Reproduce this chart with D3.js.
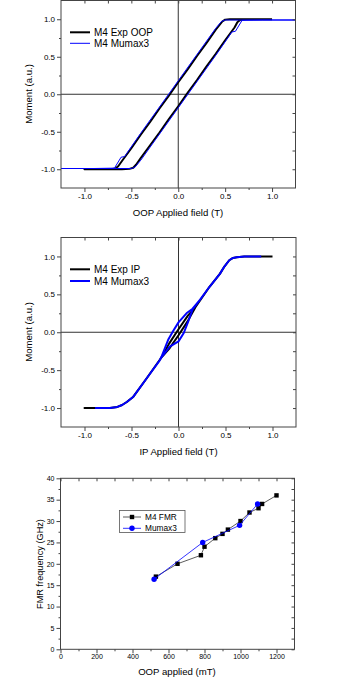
<!DOCTYPE html>
<html>
<head>
<meta charset="utf-8">
<script src="https://cdn.jsdelivr.net/npm/d3@7"></script>
<style>
body { margin: 0; background: #fff; }
svg { display: block; }
text { font-family: "Liberation Sans", Arial, sans-serif; fill: #000; }
</style>
</head>
<body>
<svg id="chart" width="342" height="677"></svg>
<script>
// ---- panel 1 : OOP loops (descending branch, then ascending branch)
var oopExpField = [1.0, 0.7, 0.55, 0.5, 0.47, 0.4, 0.3, 0.2, 0.1, 0.0, -0.1, -0.2, -0.3, -0.4, -0.5, -0.6, -0.64, -0.67, -0.72, -0.85, -1.0,
    -1.0, -0.8, -0.6, -0.52, -0.48, -0.45, -0.4, -0.3, -0.2, -0.1, 0.0, 0.1, 0.2, 0.3, 0.4, 0.5, 0.6, 0.63, 0.66, 0.72, 0.85, 1.0]
var oopExpMoment = [1.0, 1.0, 1.0, 0.995, 0.97, 0.86, 0.68, 0.51, 0.33, 0.16, -0.02, -0.19, -0.37, -0.54, -0.72, -0.89, -0.96, -0.99, -1.0, -1.0, -1.0,
    -1.0, -1.0, -1.0, -0.995, -0.98, -0.94, -0.85, -0.68, -0.51, -0.33, -0.16, 0.02, 0.19, 0.37, 0.54, 0.72, 0.89, 0.96, 0.99, 1.0, 1.0, 1.0]
var oopSimField = [1.25, 0.8, 0.5, 0.46, 0.4, 0.2, 0.0, -0.2, -0.4, -0.55, -0.57, -0.61, -0.68, -0.9, -1.25,
    -1.25, -0.8, -0.5, -0.46, -0.4, -0.2, 0.0, 0.2, 0.4, 0.55, 0.57, 0.61, 0.68, 0.9, 1.25]
var oopSimMoment = [0.99, 0.99, 0.99, 0.97, 0.88, 0.53, 0.18, -0.17, -0.52, -0.79, -0.83, -0.84, -0.985, -0.99, -0.99,
    -0.99, -0.99, -0.99, -0.97, -0.88, -0.53, -0.18, 0.17, 0.52, 0.79, 0.83, 0.84, 0.985, 0.99, 0.99]

// ---- panel 2 : IP loops
var ipExpField = [1.0, 0.7, 0.62, 0.58, 0.54, 0.49, 0.44, 0.33, 0.18, 0.1, 0.0, -0.1, -0.18, -0.34, -0.48, -0.55, -0.6, -0.65, -0.73, -1.0,
    -1.0, -0.73, -0.65, -0.6, -0.55, -0.48, -0.34, -0.18, -0.1, 0.0, 0.1, 0.18, 0.33, 0.44, 0.49, 0.54, 0.58, 0.62, 0.7, 1.0]
var ipExpMoment = [1.0, 1.0, 0.99, 0.98, 0.95, 0.87, 0.77, 0.6, 0.33, 0.22, 0.04, -0.15, -0.33, -0.61, -0.85, -0.92, -0.96, -0.985, -1.0, -1.0,
    -1.0, -1.0, -0.985, -0.96, -0.92, -0.85, -0.61, -0.33, -0.22, -0.04, 0.15, 0.33, 0.6, 0.77, 0.87, 0.95, 0.98, 0.99, 1.0, 1.0]
var ipSimField = [0.88, 0.7, 0.62, 0.58, 0.54, 0.49, 0.44, 0.33, 0.23, 0.15, 0.085, 0.0, -0.057, -0.11, -0.18, -0.2, -0.34, -0.48, -0.55, -0.6, -0.65, -0.73, -0.88,
    -0.88, -0.73, -0.65, -0.6, -0.55, -0.48, -0.34, -0.2, -0.18, -0.093, 0.0, 0.056, 0.1, 0.15, 0.23, 0.33, 0.44, 0.49, 0.54, 0.58, 0.62, 0.7, 0.88]
var ipSimMoment = [1.0, 1.0, 0.99, 0.98, 0.95, 0.87, 0.77, 0.6, 0.43, 0.31, 0.25, 0.13, 0.017, -0.1, -0.32, -0.37, -0.61, -0.85, -0.92, -0.96, -0.985, -1.0, -1.0,
    -1.0, -1.0, -0.985, -0.96, -0.92, -0.85, -0.61, -0.37, -0.33, -0.19, -0.12, -0.01, 0.13, 0.3, 0.43, 0.6, 0.77, 0.87, 0.95, 0.98, 0.99, 1.0, 1.0]

// ---- panel 3 : FMR
var fmrField = [530, 650, 780, 800, 860, 900, 930, 1000, 1050, 1100, 1120, 1200]
var fmrFreq = [17, 20, 22, 24, 26, 27, 28, 30, 32, 33, 34, 36]
var mumaxField = [520, 790, 995, 1095]
var mumaxFreq = [16.4, 25, 29, 34]

var loopTicks = [-1, -0.5, 0, 0.5, 1],
    loopMinorX = [-0.75, -0.25, 0.25, 0.75],
    loopMinorY = [-0.75, -0.25, 0.25, 0.75],
    fmrTicksX = [0, 200, 400, 600, 800, 1000, 1200],
    fmrMinorX = [100, 300, 500, 700, 900, 1100],
    fmrTicksY = [0, 5, 10, 15, 20, 25, 30, 35, 40],
    fmrMinorY = [2.5, 7.5, 12.5, 17.5, 22.5, 27.5, 32.5, 37.5]

var svg = d3.select("#chart")
var frameColor = "#444"

function addAxes(x, y, opt) {
    var x0 = x.range()[0], x1 = x.range()[1],
        y0 = y.range()[0], y1 = y.range()[1]
    var g = svg.append("g")
    g.append("g").attr("transform", "translate(0," + y0 + ")")
        .call(d3.axisBottom(x).tickValues(opt.xMinor).tickSize(2).tickFormat(""))
    g.append("g").attr("transform", "translate(0," + y0 + ")")
        .call(d3.axisBottom(x).tickValues(opt.xMajor).tickSize(4).tickPadding(opt.xPad).tickFormat(opt.xFmt))
    g.append("g").attr("transform", "translate(" + x0 + ",0)")
        .call(d3.axisLeft(y).tickValues(opt.yMinor).tickSize(2).tickFormat(""))
    g.append("g").attr("transform", "translate(" + x0 + ",0)")
        .call(d3.axisLeft(y).tickValues(opt.yMajor).tickSize(4).tickPadding(2).tickFormat(opt.yFmt))
    // mirrored inward ticks on top and right
    g.append("g").attr("transform", "translate(0," + y1 + ")")
        .call(d3.axisTop(x).tickValues(opt.xMajor.concat(opt.xMinor)).tickSize(-3).tickFormat(""))
    g.append("g").attr("transform", "translate(" + x1 + ",0)")
        .call(d3.axisRight(y).tickValues(opt.yMajor.concat(opt.yMinor)).tickSize(-3).tickFormat(""))
    g.selectAll(".domain").remove()
    g.selectAll(".tick line").attr("stroke", frameColor)
    g.selectAll(".tick text").style("font-size", opt.fs + "px")
    g.append("rect")
        .attr("x", x0).attr("y", y1)
        .attr("width", x1 - x0).attr("height", y0 - y1)
        .attr("fill", "none").attr("stroke", frameColor).attr("stroke-width", 1)
}

function zeroLines(x, y) {
    svg.append("line").attr("x1", x(0)).attr("x2", x(0))
        .attr("y1", y.range()[0]).attr("y2", y.range()[1])
        .attr("stroke", "#333").attr("stroke-width", 1)
    svg.append("line").attr("x1", x.range()[0]).attr("x2", x.range()[1])
        .attr("y1", y(0)).attr("y2", y(0))
        .attr("stroke", "#333").attr("stroke-width", 1)
}

function title(txt, cx, cy, fs, rot) {
    var t = svg.append("text").text(txt)
        .attr("text-anchor", "middle")
        .style("font-size", fs + "px")
    if (rot) t.attr("transform", "translate(" + cx + "," + cy + ") rotate(-90)")
    else t.attr("x", cx).attr("y", cy)
}

function legendRow(lx, ly, color, width, label, fs) {
    svg.append("line").attr("x1", lx).attr("x2", lx + 20)
        .attr("y1", ly).attr("y2", ly)
        .attr("stroke", color).attr("stroke-width", width)
    svg.append("text").attr("x", lx + 24).attr("y", ly + 3.5)
        .style("font-size", fs + "px").text(label)
}

var fmt1 = function (d) { return d.toFixed(1) }

// ============ panel 1
var x1 = d3.scaleLinear().domain([-1.25, 1.25]).range([61, 295.5]),
    y1 = d3.scaleLinear().domain([-1.25, 1.25]).range([188, 0.5])
var line1 = d3.line().x(function (d) { return x1(d[0]) }).y(function (d) { return y1(d[1]) })

zeroLines(x1, y1)
svg.append("path").attr("d", line1(d3.zip(oopExpField, oopExpMoment)))
    .attr("fill", "none").attr("stroke", "#000").attr("stroke-width", 2).attr("stroke-linejoin", "round")
svg.append("path").attr("d", line1(d3.zip(oopSimField, oopSimMoment)))
    .attr("fill", "none").attr("stroke", "#0000ff").attr("stroke-width", 1)
addAxes(x1, y1, { xMajor: loopTicks, xMinor: loopMinorX, yMajor: loopTicks, yMinor: loopMinorY, xFmt: fmt1, yFmt: fmt1, xPad: 1, fs: 8 })
legendRow(70, 32.3, "#000", 2, "M4 Exp OOP", 10)
legendRow(70, 43.3, "#0000ff", 1, "M4 Mumax3", 10)
title("OOP Applied field (T)", 178, 215.5, 9.6)
title("Moment (a.u.)", 31.5, 94, 9.6, true)

// ============ panel 2
var x2 = d3.scaleLinear().domain([-1.25, 1.25]).range([61, 296]),
    y2 = d3.scaleLinear().domain([-1.25, 1.25]).range([427, 237.5])
var line2 = d3.line().x(function (d) { return x2(d[0]) }).y(function (d) { return y2(d[1]) })

zeroLines(x2, y2)
svg.append("path").attr("d", line2(d3.zip(ipExpField, ipExpMoment)))
    .attr("fill", "none").attr("stroke", "#000").attr("stroke-width", 2).attr("stroke-linejoin", "round")
svg.append("path").attr("d", line2(d3.zip(ipSimField, ipSimMoment)))
    .attr("fill", "none").attr("stroke", "#0000ff").attr("stroke-width", 2).attr("stroke-linejoin", "round")
addAxes(x2, y2, { xMajor: loopTicks, xMinor: loopMinorX, yMajor: loopTicks, yMinor: loopMinorY, xFmt: fmt1, yFmt: fmt1, xPad: 1, fs: 8 })
legendRow(70, 269.3, "#000", 2, "M4 Exp IP", 10)
legendRow(70, 281, "#0000ff", 2, "M4 Mumax3", 10)
title("IP Applied field (T)", 178.5, 455, 9.6)
title("Moment (a.u.)", 31.5, 332, 9.6, true)

// ============ panel 3
var x3 = d3.scaleLinear().domain([0, 1300]).range([60.5, 294.5]),
    y3 = d3.scaleLinear().domain([0, 40]).range([649.3, 478.3])

var fmrLine = d3.line().x(function (d) { return x3(d[0]) }).y(function (d) { return y3(d[1]) })
var fmrData = d3.zip(fmrField, fmrFreq),
    mumaxData = d3.zip(mumaxField, mumaxFreq)

svg.append("path").attr("d", fmrLine(fmrData))
    .attr("fill", "none").attr("stroke", "#333").attr("stroke-width", 0.8)
svg.selectAll(".sq").data(fmrData).enter().append("rect")
    .attr("class", "sq")
    .attr("x", function (d) { return x3(d[0]) - 2.2 })
    .attr("y", function (d) { return y3(d[1]) - 2.2 })
    .attr("width", 4.4).attr("height", 4.4).attr("fill", "#000")
svg.append("path").attr("d", fmrLine(mumaxData))
    .attr("fill", "none").attr("stroke", "#0000ff").attr("stroke-width", 0.8)
svg.selectAll(".dot").data(mumaxData).enter().append("circle")
    .attr("class", "dot")
    .attr("cx", function (d) { return x3(d[0]) })
    .attr("cy", function (d) { return y3(d[1]) })
    .attr("r", 2.7).attr("fill", "#0000ff")
addAxes(x3, y3, { xMajor: fmrTicksX, xMinor: fmrMinorX, yMajor: fmrTicksY, yMinor: fmrMinorY, xFmt: d3.format("d"), yFmt: d3.format("d"), xPad: 1, fs: 7 })

// legend box
svg.append("rect").attr("x", 119.5).attr("y", 510.5).attr("width", 65.5).attr("height", 22)
    .attr("fill", "#fff").attr("stroke", "#555").attr("stroke-width", 0.8)
svg.append("line").attr("x1", 123).attr("x2", 141).attr("y1", 517).attr("y2", 517)
    .attr("stroke", "#333").attr("stroke-width", 0.8)
svg.append("rect").attr("x", 132 - 2.2).attr("y", 517 - 2.2).attr("width", 4.4).attr("height", 4.4).attr("fill", "#000")
svg.append("text").attr("x", 145).attr("y", 520).style("font-size", "8.3px").text("M4 FMR")
svg.append("line").attr("x1", 123).attr("x2", 141).attr("y1", 528.3).attr("y2", 528.3)
    .attr("stroke", "#0000ff").attr("stroke-width", 0.8)
svg.append("circle").attr("cx", 132).attr("cy", 528.3).attr("r", 2.7).attr("fill", "#0000ff")
svg.append("text").attr("x", 145).attr("y", 531.3).style("font-size", "8.3px").text("Mumax3")

title("OOP applied (mT)", 177, 674.5, 9.6)
title("FMR frequency (GHz)", 43.3, 564, 9.2, true)
</script>
</body>
</html>
